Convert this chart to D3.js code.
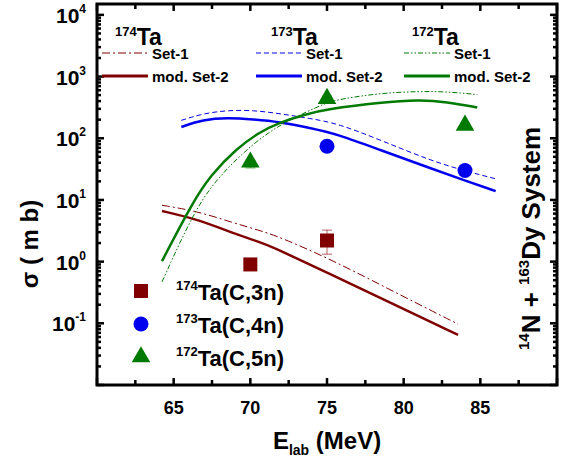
<!DOCTYPE html>
<html>
<head>
<meta charset="utf-8">
<script src="https://cdn.jsdelivr.net/npm/d3@7"></script>
<style>
body { margin: 0; background: #fff; }
text { font-family: Arial, "Liberation Sans", sans-serif; font-weight: bold; fill: #000; }
</style>
</head>
<body>
<svg id="chart" width="568" height="463"></svg>
<script>
// energies (MeV) and cross sections (mb)
var e174 = [64.24, 66.5, 68.7, 70.8, 71.9, 75.1, 80, 83.55];
var ta174Mod = [6.6, 4.9, 3.0, 2.0, 1.53, 0.65, 0.17, 0.065];
var ta174Set1 = [8.2, 6.6, 4.4, 3.1, 2.5, 1.14, 0.27, 0.097];

var e173 = [65.5, 66.9, 68.5, 70.2, 71.9, 73.9, 75.7, 78.5, 81.7, 83.9, 86];
var ta173Mod = [152, 200, 216, 202, 184, 147, 116, 64, 33, 21, 13.9];
var ta173Set1 = [195, 251, 284, 284, 251, 209, 174, 93, 44, 30, 22];

var e172 = [64.24, 66.2, 67.4, 69.1, 70.6, 71.9, 73.5, 75.2, 78.5, 81, 82.8, 84.8];
var ta172Mod = [1.02, 8.8, 25, 68, 126, 179, 242, 302, 380, 420, 390, 316];
var e172s1 = [64.24, 66.5, 68.2, 70.2, 71.9, 73.4, 75, 76, 78.5, 81, 82.8, 84.8];
var ta172Set1 = [0.47, 8.2, 28, 83, 163, 250, 380, 437, 540, 575, 570, 510];

// measured points: [E, value, errLow, errHigh]
var exp174 = [[70, 0.9, 0.8, 1.0], [75, 2.2, 1.32, 3.24]];
var exp173 = [[75, 74, 68, 80], [84, 30, 28, 32]];
var exp172 = [[70, 41, 33, 44], [75, 440, 400, 480], [84, 162, 140, 175]];

var xTicks = [65, 70, 75, 80, 85];
var yExps = [-1, 0, 1, 2, 3, 4];

var red = "#800000", blue = "#0000ee", green = "#007a00";

var svg = d3.select("#chart"),
    margin = {top: 4, right: 11, bottom: 78, left: 97},
    width = +svg.attr("width") - margin.left - margin.right,
    height = +svg.attr("height") - margin.top - margin.bottom,
    g = svg.append("g").attr("transform", "translate(" + margin.left + "," + margin.top + ")");

var x = d3.scaleLinear().domain([60, 90]).range([0, width]);
var y = d3.scaleLog().domain([0.01, 15000]).range([height, 0]);

// minor / major ticks
var minorX = d3.range(60, 90.1, 2.5);
var logTicks = [];
for (var p = -2; p <= 4; p++) {
	for (var m = 1; m <= 9; m++) {
		var v = m * Math.pow(10, p);
		if (v <= 15000) logTicks.push({v: v, major: m === 1});
	}
}

g.selectAll(".ytl").data(logTicks).enter().append("line")
	.attr("x1", 0).attr("x2", function(d) { return d.major ? 7 : 4; })
	.attr("y1", function(d) { return y(d.v); }).attr("y2", function(d) { return y(d.v); })
	.attr("stroke", "#000").attr("stroke-width", 2.5);
g.selectAll(".ytr").data(logTicks).enter().append("line")
	.attr("x1", width).attr("x2", function(d) { return width - (d.major ? 7 : 4); })
	.attr("y1", function(d) { return y(d.v); }).attr("y2", function(d) { return y(d.v); })
	.attr("stroke", "#000").attr("stroke-width", 2.5);
g.selectAll(".xtb").data(minorX).enter().append("line")
	.attr("x1", function(d) { return x(d); }).attr("x2", function(d) { return x(d); })
	.attr("y1", height).attr("y2", function(d) { return height - (d % 5 === 0 ? 7 : 5); })
	.attr("stroke", "#000").attr("stroke-width", 2.5);
g.selectAll(".xtt").data(minorX).enter().append("line")
	.attr("x1", function(d) { return x(d); }).attr("x2", function(d) { return x(d); })
	.attr("y1", 0).attr("y2", function(d) { return d % 5 === 0 ? 7 : 5; })
	.attr("stroke", "#000").attr("stroke-width", 2.5);

// tick labels
g.selectAll(".xl").data(xTicks).enter().append("text")
	.attr("x", function(d) { return x(d); })
	.attr("y", height + 29)
	.attr("text-anchor", "middle")
	.style("font-size", "18px")
	.text(function(d) { return d; });

var yl = g.selectAll(".yl").data(yExps).enter().append("text")
	.attr("x", -11)
	.attr("y", function(d) { return y(Math.pow(10, d)) + 8; })
	.attr("text-anchor", "end")
	.style("font-size", "21px");
yl.append("tspan").text("10");
yl.append("tspan").attr("dy", -10).style("font-size", "12px").text(function(d) { return d; });

// curves
var line = d3.line()
	.curve(d3.curveBasis)
	.x(function(d) { return x(d[0]); })
	.y(function(d) { return y(d[1]); });

var curves = [
	{e: e174, v: ta174Set1, c: red, w: 1, dash: "8,3,2,3"},
	{e: e174, v: ta174Mod, c: red, w: 2.5, dash: null},
	{e: e173, v: ta173Set1, c: blue, w: 1, dash: "5,3"},
	{e: e173, v: ta173Mod, c: blue, w: 2.5, dash: null},
	{e: e172s1, v: ta172Set1, c: green, w: 1, dash: "5,2,1.5,2,1.5,2"},
	{e: e172, v: ta172Mod, c: green, w: 2.5, dash: null}
];
curves.forEach(function(cv) {
	g.append("path")
		.datum(d3.zip(cv.e, cv.v))
		.attr("fill", "none")
		.attr("stroke", cv.c)
		.attr("stroke-width", cv.w)
		.attr("stroke-dasharray", cv.dash)
		.attr("d", line);
});

// error bars + markers
function errBars(pts, col) {
	pts.forEach(function(d) {
		g.append("line")
			.attr("x1", x(d[0])).attr("x2", x(d[0]))
			.attr("y1", y(d[2])).attr("y2", y(d[3]))
			.attr("stroke", col).attr("stroke-width", 1).attr("opacity", 0.6);
		[d[2], d[3]].forEach(function(v) {
			g.append("line")
				.attr("x1", x(d[0]) - 5).attr("x2", x(d[0]) + 5)
				.attr("y1", y(v)).attr("y2", y(v))
				.attr("stroke", col).attr("stroke-width", 1).attr("opacity", 0.6);
		});
	});
}
errBars(exp174, red);
errBars(exp173, blue);
errBars(exp172, green);

function marker(sel, type, col) {
	if (type === "square") {
		sel.append("rect").attr("x", -7).attr("y", -7).attr("width", 14).attr("height", 14).attr("fill", col);
	} else if (type === "circle") {
		sel.append("circle").attr("r", 7.5).attr("fill", col);
	} else {
		sel.append("path").attr("d", d3.symbol().type(d3.symbolTriangle).size(150)).attr("fill", col);
	}
}
[[exp174, "square", red], [exp173, "circle", blue], [exp172, "triangle", green]].forEach(function(s) {
	s[0].forEach(function(d) {
		var mg = g.append("g").attr("transform", "translate(" + x(d[0]) + "," + y(d[1]) + ")");
		marker(mg, s[1], s[2]);
	});
});

// frame
g.append("rect")
	.attr("width", width).attr("height", height)
	.attr("fill", "none").attr("stroke", "#000").attr("stroke-width", 3);

// top legends for each isotope
var isoLegend = [
	{mass: "174", x0: 18, c: red, dash: "8,3,2,3"},
	{mass: "173", x0: 172, c: blue, dash: "5,3"},
	{mass: "172", x0: 313, c: green, dash: "5,2,1.5,2,1.5,2"}
];
var legX = [18, 172, 320];
isoLegend.forEach(function(L, i) {
	var t = g.append("text").attr("x", L.x0 + (i === 0 ? 0 : 2)).attr("y", 41).style("font-size", "23px");
	t.append("tspan").attr("dy", -9).style("font-size", "13px").text(L.mass);
	t.append("tspan").attr("dy", 9).text("Ta");
	var lx = legX[i];
	g.append("line").attr("x1", lx - 13).attr("x2", lx + 33).attr("y1", 49).attr("y2", 49)
		.attr("stroke", L.c).attr("stroke-width", 1).attr("stroke-dasharray", L.dash);
	g.append("text").attr("x", lx + 37).attr("y", 55).style("font-size", "15px").text("Set-1");
	g.append("line").attr("x1", lx - 13).attr("x2", lx + 33).attr("y1", 72).attr("y2", 72)
		.attr("stroke", L.c).attr("stroke-width", 3);
	g.append("text").attr("x", lx + 37).attr("y", 78).style("font-size", "15px").text("mod. Set-2");
});

// data legend
var dataLegend = [
	{mass: "174", label: "Ta(C,3n)", type: "square", c: red},
	{mass: "173", label: "Ta(C,4n)", type: "circle", c: blue},
	{mass: "172", label: "Ta(C,5n)", type: "triangle", c: green}
];
dataLegend.forEach(function(L, i) {
	var yy = 287 + i * 33;
	var mg = g.append("g").attr("transform", "translate(44," + yy + ")");
	marker(mg, L.type, L.c);
	var t = g.append("text").attr("x", 79).attr("y", yy + 9).style("font-size", "22px");
	t.append("tspan").attr("dy", -10).style("font-size", "13px").text(L.mass);
	t.append("tspan").attr("dy", 10).text(L.label);
});

// right-side system label
var sys = svg.append("text")
	.attr("transform", "translate(540,350) rotate(-90)")
	.style("font-size", "26px");
sys.append("tspan").attr("dy", -11).style("font-size", "15px").text("14");
sys.append("tspan").attr("dy", 11).text("N + ");
sys.append("tspan").attr("dy", -11).style("font-size", "15px").text("163");
sys.append("tspan").attr("dy", 11).text("Dy System");

// axis titles
svg.append("text")
	.attr("transform", "translate(38,244) rotate(-90)")
	.attr("text-anchor", "middle")
	.style("font-size", "24px")
	.text("\u03c3 ( m b)");

var xt = svg.append("text")
	.attr("x", 327).attr("y", 449)
	.attr("text-anchor", "middle")
	.style("font-size", "24px");
xt.append("tspan").text("E");
xt.append("tspan").attr("dy", 6).style("font-size", "14px").text("lab");
xt.append("tspan").attr("dy", -6).text(" (MeV)");
</script>
</body>
</html>
